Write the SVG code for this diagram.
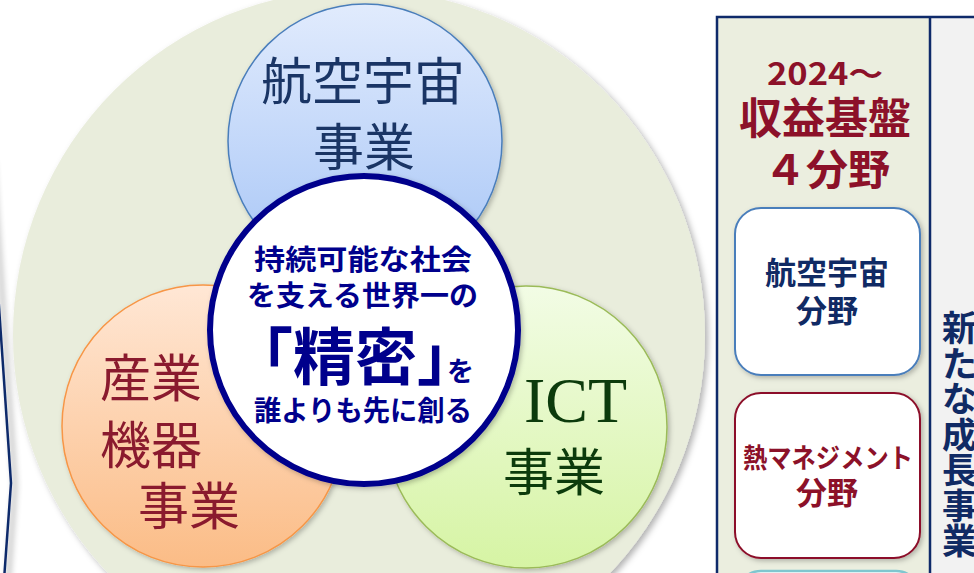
<svg xmlns="http://www.w3.org/2000/svg" width="974" height="573" viewBox="0 0 974 573">
  <defs>
    <linearGradient id="gBlue" x1="0" y1="0" x2="0" y2="1">
      <stop offset="0" stop-color="#E1EBFD"/>
      <stop offset="1" stop-color="#A6C5F6"/>
    </linearGradient>
    <linearGradient id="gOrange" x1="0" y1="0" x2="0" y2="1">
      <stop offset="0" stop-color="#FFE7D5"/>
      <stop offset="1" stop-color="#FBBC86"/>
    </linearGradient>
    <linearGradient id="gGreen" x1="0" y1="0" x2="0" y2="1">
      <stop offset="0" stop-color="#F2FCE5"/>
      <stop offset="1" stop-color="#D6F4A4"/>
    </linearGradient>
    <filter id="shadow" x="-20%" y="-20%" width="140%" height="140%">
      <feDropShadow dx="3" dy="3" stdDeviation="3" flood-color="#000" flood-opacity="0.3"/>
    </filter>
    <filter id="shadowSoft" x="-20%" y="-20%" width="140%" height="140%">
      <feDropShadow dx="2" dy="2" stdDeviation="2.5" flood-color="#000" flood-opacity="0.25"/>
    </filter>
    <filter id="shadowLine" x="-200%" y="-10%" width="500%" height="120%">
      <feDropShadow dx="4" dy="2" stdDeviation="3" flood-color="#000" flood-opacity="0.45"/>
    </filter>
  </defs>
  <style>
    .jp { font-family: "Noto Sans CJK JP", "Noto Sans", sans-serif; }
    .b { font-weight: 700; }
    .cen { text-anchor: middle; }
    .navy { fill: #00008C; }
    .dnavy { fill: #102A64; }
    .red { fill: #8C1129; }
  </style>
  <rect x="0" y="0" width="974" height="573" fill="#FFFFFF"/>

  <!-- left edge chevron line -->
  <g id="left-edge" filter="url(#shadowLine)">
    <polyline points="-11,160 11,483 4,580" fill="none" stroke="#0F2A6B" stroke-width="2.5"/>
  </g>

  <!-- background circle -->
  <g id="bg-circle">
    <circle cx="359" cy="335" r="346" fill="#E9EDDC" filter="url(#shadow)"/>
  </g>

  <g id="node-aerospace">
    <circle cx="365" cy="141" r="137" fill="url(#gBlue)" stroke="#4A7EBB" stroke-width="1.5" filter="url(#shadowSoft)"/>
    <text class="jp cen" x="363" y="100" font-size="51" fill="#1A3565">航空宇宙</text>
    <text class="jp cen" x="364" y="166" font-size="51" fill="#1A3565">事業</text>
  </g>

  <g id="node-industrial">
    <circle cx="203" cy="426" r="141" fill="url(#gOrange)" stroke="#F79646" stroke-width="1.5" filter="url(#shadowSoft)"/>
    <text class="jp" x="100" y="397" font-size="51" fill="#8A1A2E">産業</text>
    <text class="jp" x="100" y="464" font-size="51" fill="#8A1A2E">機器</text>
    <text class="jp" x="138" y="525" font-size="51" fill="#8A1A2E">事業</text>
  </g>

  <g id="node-ict">
    <circle cx="526" cy="427" r="141" fill="url(#gGreen)" stroke="#9BBB59" stroke-width="1.5" filter="url(#shadowSoft)"/>
    <text x="524" y="422" font-family="Liberation Serif, serif" font-size="64" fill="#0C3B0C">ICT</text>
    <text class="jp" x="503" y="491" font-size="51" fill="#0C3B0C">事業</text>
  </g>

  <g id="node-center">
    <circle cx="364" cy="330" r="154" fill="#FFFFFF" stroke="#00008C" stroke-width="6" filter="url(#shadowSoft)"/>
    <text class="jp b navy" x="254" y="270" font-size="28" textLength="218" lengthAdjust="spacingAndGlyphs">持続可能な社会</text>
    <text class="jp b navy" x="247" y="306" font-size="28" textLength="231" lengthAdjust="spacingAndGlyphs">を支える世界一の</text>
    <text class="jp b navy" x="231" y="380" font-size="62">「精密」</text>
    <text class="jp b navy" x="447" y="381" font-size="27">を</text>
    <text class="jp b navy" x="254" y="421" font-size="28" textLength="218" lengthAdjust="spacingAndGlyphs">誰よりも先に創る</text>
  </g>

  <!-- right panel -->
  <g id="panel">
    <rect x="717" y="17" width="213" height="570" fill="#EBEEDF"/>
    <rect x="930" y="17" width="60" height="570" fill="#F2F2F2"/>
    <path d="M717,590 V17 H980 M930,17 V590" fill="none" stroke="#0E2A6A" stroke-width="2.5"/>
    <text class="jp b red cen" x="825" y="85" font-size="31" textLength="116" lengthAdjust="spacingAndGlyphs">2024～</text>
    <text class="jp b red cen" x="825" y="134" font-size="43">収益基盤</text>
    <text class="jp b red cen" x="827" y="185" font-size="42">４分野</text>
  </g>

  <g id="node-aero-field">
    <rect x="735" y="208" width="185" height="167" rx="26" fill="#FFFFFF" stroke="#4A7EBB" stroke-width="2" filter="url(#shadowSoft)"/>
    <text class="jp b dnavy cen" x="827" y="284" font-size="31">航空宇宙</text>
    <text class="jp b dnavy cen" x="827" y="322" font-size="31">分野</text>
  </g>

  <g id="node-thermal-field">
    <rect x="735" y="393" width="185" height="165" rx="26" fill="#FFFFFF" stroke="#8C1129" stroke-width="2" filter="url(#shadowSoft)"/>
    <text class="jp b red cen" x="828" y="468" font-size="27" textLength="170" lengthAdjust="spacingAndGlyphs">熱マネジメント</text>
    <text class="jp b red cen" x="827" y="504" font-size="31">分野</text>
  </g>

  <g id="node-third-field">
    <rect x="737" y="571" width="183" height="60" rx="24" fill="#FFFFFF" stroke="#7FC6CF" stroke-width="2.5"/>
  </g>

  <g id="node-new-business">
    <text class="jp b dnavy" x="942" y="341" font-size="35">新</text>
    <text class="jp b dnavy" x="942" y="376.5" font-size="35">た</text>
    <text class="jp b dnavy" x="942" y="412" font-size="35">な</text>
    <text class="jp b dnavy" x="942" y="447.5" font-size="35">成</text>
    <text class="jp b dnavy" x="942" y="483" font-size="35">長</text>
    <text class="jp b dnavy" x="942" y="518.5" font-size="35">事</text>
    <text class="jp b dnavy" x="942" y="554" font-size="35">業</text>
  </g>

  <g id="connectors"/>
</svg>
